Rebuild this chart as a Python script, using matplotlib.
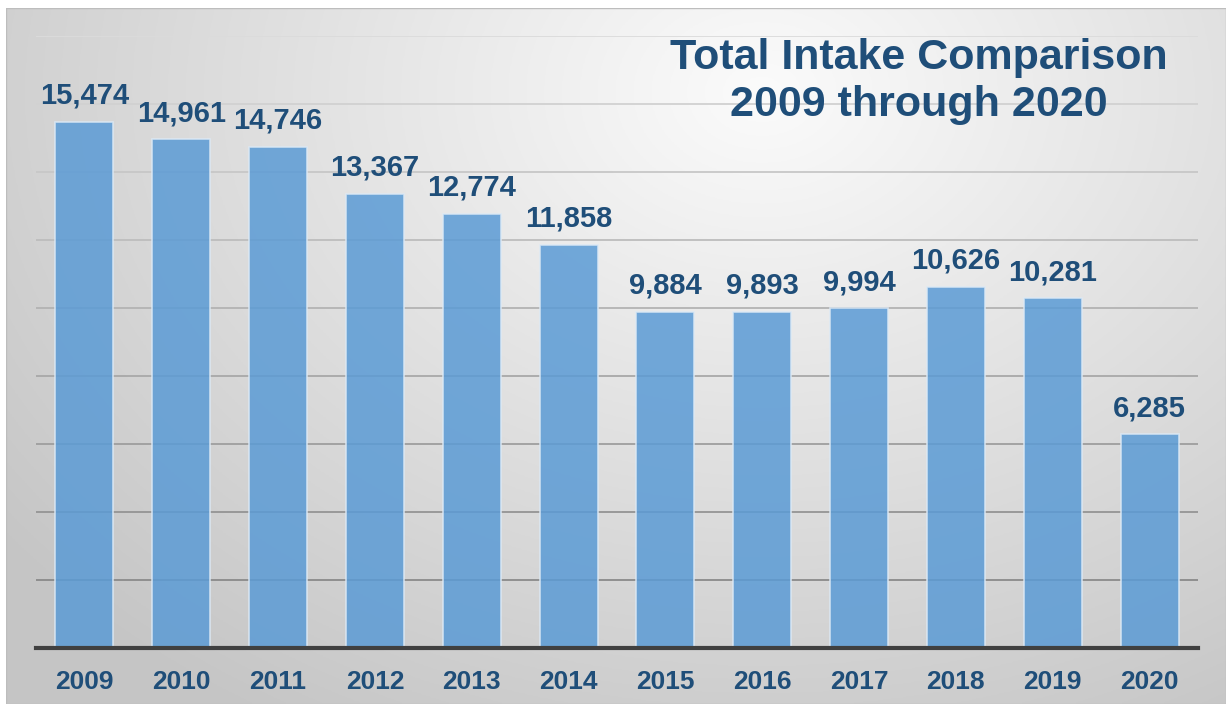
import numpy as np
import matplotlib
matplotlib.use("Agg")
import matplotlib.pyplot as plt
from matplotlib.patches import Rectangle

years = ["2009", "2010", "2011", "2012", "2013", "2014",
         "2015", "2016", "2017", "2018", "2019", "2020"]
intake = [15474, 14961, 14746, 13367, 12774, 11858,
          9884, 9893, 9994, 10626, 10281, 6285]
title_lines = ["Total Intake Comparison", "2009 through 2020"]

W, H = 1232, 706
fig = plt.figure(figsize=(W / 100, H / 100), dpi=100)
fig.patch.set_facecolor("white")

# background panel with radial gradient
px0, py0, px1, py1 = 6, 8, 1226, 704
bg = fig.add_axes([px0 / W, 1 - py1 / H, (px1 - px0) / W, (py1 - py0) / H])
bg.set_axis_off()
nx, ny = 400, 240
xx, yy = np.meshgrid(np.linspace(0, 1, nx), np.linspace(0, 1, ny))
cx, cy = 0.62, 0.12  # from top
d = np.sqrt(((xx - cx) / 0.75) ** 2 + ((yy - cy) / 1.0) ** 2)
val = 0.985 - 0.2 * np.clip(d, 0, 1.05)
img = np.dstack([val, val, val])
bg.imshow(img, aspect="auto", extent=[0, 1, 0, 1], origin="upper")
bg.add_patch(Rectangle((0, 0), 1, 1, transform=bg.transAxes, fill=False,
                       edgecolor="#bdbdbd", linewidth=1.0))

# plot area
ax0, ax1_, ay_top, ay_bot = 36, 1198, 36, 648
ax = fig.add_axes([ax0 / W, 1 - ay_bot / H, (ax1_ - ax0) / W, (ay_bot - ay_top) / H])
ax.patch.set_alpha(0)
x = np.arange(len(years))
ax.set_xlim(-0.5, len(years) - 0.5)
ax.set_ylim(0, 18000)

ticks = np.arange(2000, 18001, 2000)
for t in ticks:
    f = t / 18000
    g = 0.50 + 0.36 * f
    ax.axhline(t, color=(g, g, g), linewidth=1.3, zorder=1)

bar_color = "#5b9bd5"
ax.bar(x, intake, width=0.6, color=bar_color, alpha=0.85,
       edgecolor="#dce9f5", linewidth=1.2, zorder=2)

text_color = "#1f4e79"
for xi, v in zip(x, intake):
    ax.annotate(f"{v:,}", xy=(xi, v), xytext=(0, 13), textcoords="offset points",
                ha="center", va="baseline", fontsize=21, fontweight="bold",
                color=text_color, family="Liberation Sans")

for s in ["top", "right", "left"]:
    ax.spines[s].set_visible(False)
ax.spines["bottom"].set_color("#404040")
ax.spines["bottom"].set_linewidth(3)
ax.spines["bottom"].set_zorder(3)
ax.set_yticks([])
ax.set_xticks(x)
ax.set_xticklabels(years, fontsize=19, fontweight="bold", color=text_color,
                   family="Liberation Sans")
ax.tick_params(axis="x", length=0, pad=16)

fig.text(919 / W, 1 - 58 / H, title_lines[0], ha="center", va="center",
         fontsize=31, fontweight="bold", color=text_color, family="Liberation Sans")
fig.text(919 / W, 1 - 105 / H, title_lines[1], ha="center", va="center",
         fontsize=31, fontweight="bold", color=text_color, family="Liberation Sans")

fig.savefig("out.png", dpi=100, facecolor="white")
